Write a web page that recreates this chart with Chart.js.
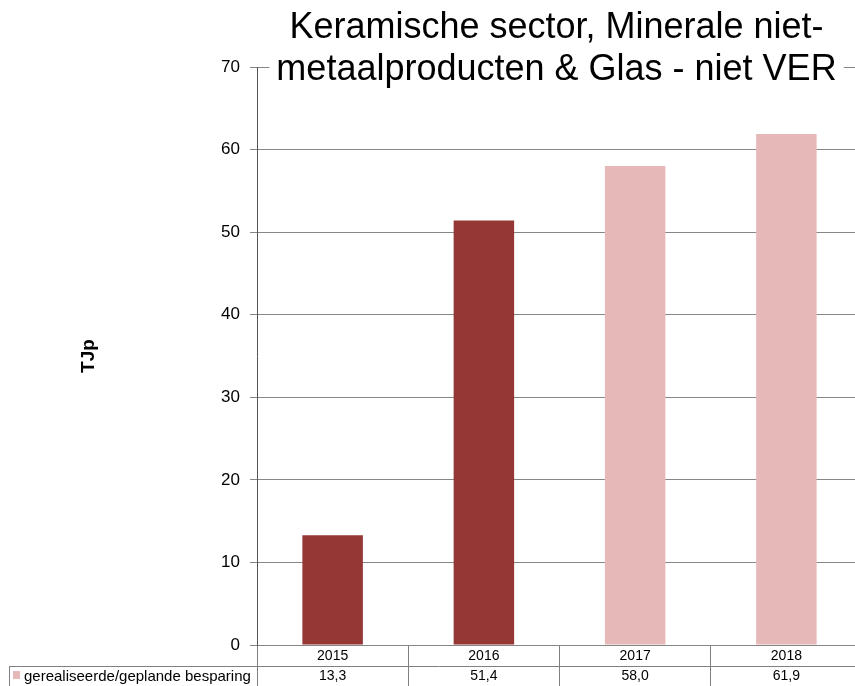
<!DOCTYPE html>
<html>
<head>
<meta charset="utf-8">
<script src="https://cdn.jsdelivr.net/npm/chart.js@4.4.1/dist/chart.umd.min.js"></script>
<style>
html,body{margin:0;padding:0;background:#fff;overflow:hidden;}
#wrap{width:855px;height:686px;position:relative;overflow:hidden;}
canvas{display:block;}
</style>
</head>
<body>
<div id="wrap"><canvas id="c" width="870" height="686"></canvas></div>
<script>
const categories = ['2015', '2016', '2017', '2018'];
const values = [13.3, 51.4, 58.0, 61.9];
const barColors = ['#953735', '#953735', '#E6B9B8', '#E6B9B8'];
const seriesLabel = 'gerealiseerde/geplande besparing';
const yAxisTitle = 'TJp';
const titleLines = ['Keramische sector, Minerale niet-', 'metaalproducten & Glas - niet VER'];
const yMin = 0, yMax = 70, yStep = 10;

const FONT = '"Liberation Sans", Arial, sans-serif';

const titlePlugin = {
  id: 'customTitle',
  afterDraw(chart) {
    const ctx = chart.ctx;
    const ca = chart.chartArea;
    const cx = (ca.left + ca.right) / 2 - 3;
    ctx.save();
    ctx.font = '36px ' + FONT;
    ctx.textAlign = 'center';
    ctx.textBaseline = 'alphabetic';
    const baselines = [38, 80];
    titleLines.forEach((line, i) => {
      const w = ctx.measureText(line).width;
      ctx.fillStyle = '#fff';
      ctx.fillRect(cx - w / 2 - 7, baselines[i] - 30, w + 14, 38);
    });
    ctx.fillStyle = '#000';
    titleLines.forEach((line, i) => ctx.fillText(line, cx, baselines[i]));
    ctx.restore();
  }
};

const tablePlugin = {
  id: 'dataTable',
  afterDraw(chart) {
    const ctx = chart.ctx;
    const ca = chart.chartArea;
    const xs = chart.scales.x;
    const rowTop = ca.bottom + 21;
    ctx.save();
    ctx.strokeStyle = '#808080';
    ctx.lineWidth = 1;
    ctx.beginPath();
    ctx.moveTo(9.5, rowTop + 0.5); ctx.lineTo(chart.width, rowTop + 0.5);
    ctx.moveTo(9.5, rowTop); ctx.lineTo(9.5, chart.height);
    ctx.stroke();
    // legend key
    ctx.fillStyle = barColors[2];
    ctx.fillRect(13, rowTop + 5, 7, 8);
    ctx.fillStyle = '#000';
    ctx.font = '15px ' + FONT;
    ctx.textBaseline = 'middle';
    ctx.textAlign = 'left';
    ctx.fillText(seriesLabel, 24, rowTop + 10.5);
    ctx.font = '14px ' + FONT;
    ctx.textAlign = 'center';
    values.forEach((v, i) => {
      const x = xs.getPixelForValue(i);
      ctx.fillText(v.toFixed(1).replace('.', ','), x, rowTop + 10.5);
    });
    ctx.restore();
  }
};

new Chart(document.getElementById('c'), {
  type: 'bar',
  data: {
    labels: categories,
    datasets: [{
      label: seriesLabel,
      data: values,
      backgroundColor: barColors,
      borderWidth: 0,
      categoryPercentage: 1.0,
      barPercentage: 0.4
    }]
  },
  options: {
    responsive: false,
    animation: false,
    devicePixelRatio: 1,
    layout: { padding: { top: 67, right: 8, bottom: 0, left: 0 } },
    plugins: {
      legend: { display: false },
      title: { display: false },
      tooltip: { enabled: false }
    },
    scales: {
      x: {
        type: 'category',
        offset: true,
        grid: {
          offset: true,
          drawOnChartArea: false,
          drawTicks: true,
          tickLength: 41,
          color: '#808080',
          tickColor: '#808080'
        },
        border: { display: false },
        ticks: {
          color: '#000',
          font: { family: FONT, size: 14 },
          padding: -38,
          maxRotation: 0,
          autoSkip: false
        },
        afterFit(scale) { scale.height = 41; }
      },
      y: {
        min: yMin,
        max: yMax,
        ticks: {
          stepSize: yStep,
          color: '#000',
          font: { family: FONT, size: 17 },
          padding: 10
        },
        grid: {
          color: '#868686',
          tickColor: '#868686',
          tickLength: 7,
          drawTicks: true
        },
        border: { display: true, color: '#555', width: 1 },
        title: {
          display: true,
          text: yAxisTitle,
          color: '#000',
          font: { family: FONT, size: 19, weight: 'bold' },
          padding: { top: 77, bottom: 0 }
        },
        afterFit(scale) { scale.width = 257; }
      }
    }
  },
  plugins: [titlePlugin, tablePlugin]
});
</script>
</body>
</html>
